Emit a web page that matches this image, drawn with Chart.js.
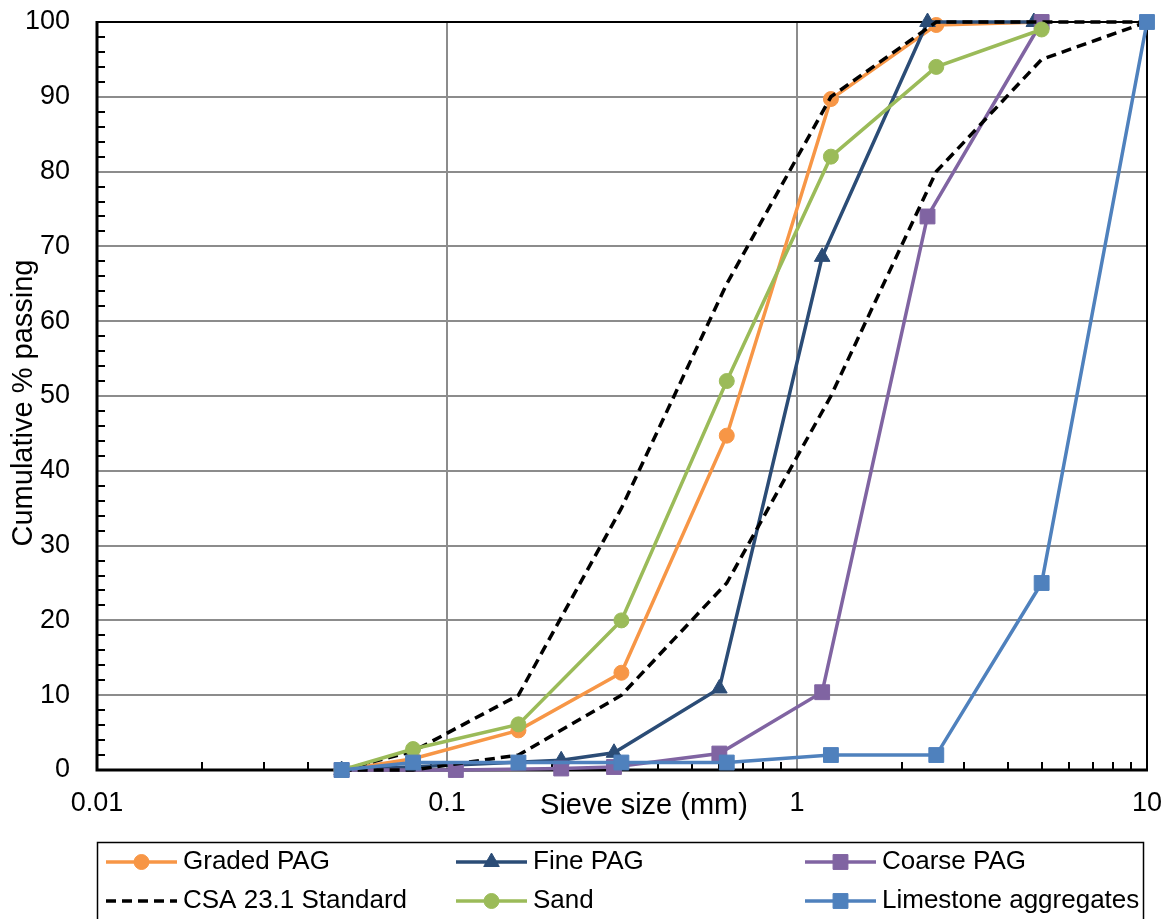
<!DOCTYPE html>
<html>
<head>
<meta charset="utf-8">
<title>Particle size distribution</title>
<script src="https://cdn.jsdelivr.net/npm/chart.js@4.4.1/dist/chart.umd.min.js"></script>
<style>
  html, body { margin: 0; padding: 0; background: #fff; }
  #wrap { width: 1172px; height: 919px; position: relative; }
</style>
</head>
<body>
<div id="wrap"><canvas id="grading"></canvas></div>
<script>
// Sieve openings (mm) and cumulative % passing for each material
const gradedSieves = [0.05, 0.08, 0.16, 0.315, 0.63, 1.25, 2.5, 5];
const gradedPassing = [0, 1.5, 5.3, 13, 44.7, 89.7, 99.6, 100];

const fineSieves = [0.05, 0.212, 0.3, 0.6, 1.18, 2.36, 4.75];
const finePassing = [0, 1.3, 2.3, 10.9, 68.6, 100, 100];

const coarseSieves = [0.05, 0.106, 0.212, 0.3, 0.6, 1.18, 2.36, 5];
const coarsePassing = [0, 0, 0.2, 0.4, 2.2, 10.4, 74, 100];

// CSA A23.1 fine aggregate envelope
const csaSieves = [0.05, 0.08, 0.16, 0.315, 0.63, 1.25, 2.5, 5, 10];
const csaUpper = [0, 2.5, 10, 35, 65, 90, 100, 100, 100];
const csaLower = [0, 0, 2, 10, 25, 50, 80, 95, 100];

const sandSieves = [0.05, 0.08, 0.16, 0.315, 0.63, 1.25, 2.5, 5];
const sandPassing = [0, 2.8, 6.1, 20, 52, 82, 94, 99];

const limestoneSieves = [0.05, 0.08, 0.16, 0.315, 0.63, 1.25, 2.5, 5, 10];
const limestonePassing = [0, 1, 1, 1, 1, 2, 2, 25, 100];

const xTickValues = [0.01, 0.1, 1, 10];

const FONT = '"Liberation Sans", Arial, sans-serif';
const GRID = '#8c8c8c';

function series(label, xs, ys, color, style, extra) {
  return Object.assign({
    label,
    data: xs.map((v, i) => ({ x: v, y: ys[i] })),
    borderColor: color,
    backgroundColor: color,
    borderWidth: 3.5,
    pointStyle: style,
    pointRadius: style === 'rect' ? 10.5 : style === 'triangle' ? 9 : 7.5,
    pointBackgroundColor: color,
    pointBorderColor: color,
    pointBorderWidth: 1,
    tension: 0,
    clip: false
  }, extra || {});
}

const datasets = [
  series('Graded PAG', gradedSieves, gradedPassing, '#F79646', 'circle'),
  series('Fine PAG', fineSieves, finePassing, '#2B4C76', 'triangle'),
  series('Coarse PAG', coarseSieves, coarsePassing, '#8064A2', 'rect'),
  series('CSA 23.1 Standard', csaSieves, csaUpper, '#000', 'line', { pointRadius: 0, borderDash: [10, 6] }),
  series('CSA 23.1 Standard', csaSieves, csaLower, '#000', 'line', { pointRadius: 0, borderDash: [10, 6] }),
  series('Sand', sandSieves, sandPassing, '#9BBB59', 'circle'),
  series('Limestone aggregates', limestoneSieves, limestonePassing, '#4F81BD', 'rect')
];
// later series sit on top
datasets.forEach((d, i) => { d.order = datasets.length - 1 - i; });

// plot frame and minor tick marks, drawn under the series
const frameAndTicks = {
  id: 'frameAndTicks',
  beforeDatasetsDraw(chart) {
    const { ctx, chartArea: a, scales: { x, y } } = chart;
    ctx.save();
    ctx.strokeStyle = '#000';
    ctx.lineWidth = 2;
    ctx.beginPath();
    ctx.moveTo(a.left, a.top);
    ctx.lineTo(a.right, a.top);
    ctx.lineTo(a.right, a.bottom);
    ctx.stroke();

    ctx.lineWidth = 3;
    ctx.beginPath();
    ctx.moveTo(a.left, a.top - 1);
    ctx.lineTo(a.left, a.bottom);
    ctx.lineTo(a.right + 1, a.bottom);
    ctx.stroke();

    ctx.lineWidth = 2;
    ctx.beginPath();
    [0.01, 0.1, 1].forEach(d => {
      for (let k = 2; k < 10; k++) {
        const px = Math.round(x.getPixelForValue(k * d));
        ctx.moveTo(px, a.bottom);
        ctx.lineTo(px, a.bottom - 8);
      }
    });
    for (let v = 2; v < 100; v += 2) {
      if (v % 10 === 0) continue;
      const py = Math.round(y.getPixelForValue(v));
      ctx.moveTo(a.left, py);
      ctx.lineTo(a.left + 8, py);
    }
    ctx.stroke();
    ctx.restore();
  }
};

// axis titles and the boxed legend underneath the plot
const legendCols = [106, 456, 805];
const legendRows = [862, 901];

const titlesAndLegend = {
  id: 'titlesAndLegend',
  afterDraw(chart) {
    const { ctx } = chart;
    ctx.save();
    ctx.fillStyle = '#000';
    ctx.textBaseline = 'middle';
    ctx.textAlign = 'center';
    ctx.font = '29px ' + FONT;
    ctx.fillText('Sieve size (mm)', 644, 806);

    ctx.save();
    ctx.translate(24, 403);
    ctx.rotate(-Math.PI / 2);
    ctx.fillText('Cumulative % passing', 0, 0);
    ctx.restore();

    ctx.strokeStyle = '#000';
    ctx.lineWidth = 1.5;
    ctx.strokeRect(97.5, 842.5, 1046, 120);

    const seen = new Set();
    const items = chart.data.datasets.filter(d => {
      if (seen.has(d.label)) return false;
      seen.add(d.label);
      return true;
    });
    ctx.font = '26px ' + FONT;
    ctx.textAlign = 'left';
    items.forEach((d, i) => {
      const x0 = legendCols[i % 3];
      const y0 = legendRows[Math.floor(i / 3)];
      ctx.strokeStyle = d.borderColor;
      ctx.lineWidth = 3.5;
      ctx.setLineDash(d.borderDash || []);
      ctx.beginPath();
      ctx.moveTo(x0, y0);
      ctx.lineTo(x0 + 71, y0);
      ctx.stroke();
      ctx.setLineDash([]);
      if (d.pointRadius > 0) {
        ctx.fillStyle = d.pointBackgroundColor;
        ctx.strokeStyle = d.pointBorderColor;
        ctx.lineWidth = 1;
        Chart.helpers.drawPoint(ctx, {
          pointStyle: d.pointStyle, rotation: 0, radius: d.pointRadius, borderWidth: 1
        }, x0 + 35.5, y0);
      }
      ctx.fillStyle = '#000';
      ctx.fillText(d.label, x0 + 77, y0);
    });
    ctx.restore();
  }
};

new Chart(document.getElementById('grading'), {
  type: 'line',
  data: { datasets },
  options: {
    responsive: true,
    maintainAspectRatio: false,
    animation: false,
    layout: { padding: { top: 22, right: 25, left: 0, bottom: 0 } },
    plugins: { legend: { display: false }, tooltip: { enabled: false } },
    scales: {
      x: {
        type: 'logarithmic',
        min: 0.01,
        max: 10,
        afterBuildTicks: s => { s.ticks = xTickValues.map(v => ({ value: v, major: true })); },
        afterFit: s => { s.height = 149; s.paddingLeft = 0; s.paddingRight = 0; },
        grid: { color: GRID, lineWidth: 2, drawTicks: false },
        border: { display: false },
        ticks: {
          padding: 17, color: '#000', maxRotation: 0, autoSkip: false,
          font: { family: FONT, size: 27 },
          callback: v => String(v)
        }
      },
      y: {
        min: 0,
        max: 100,
        afterFit: s => { s.width = 97; s.paddingTop = 0; s.paddingBottom = 0; },
        grid: { color: GRID, lineWidth: 2, drawTicks: false },
        border: { display: false },
        ticks: {
          stepSize: 10, padding: 27, color: '#000',
          font: { family: FONT, size: 27 }
        }
      }
    }
  },
  plugins: [frameAndTicks, titlesAndLegend]
});
</script>
</body>
</html>
